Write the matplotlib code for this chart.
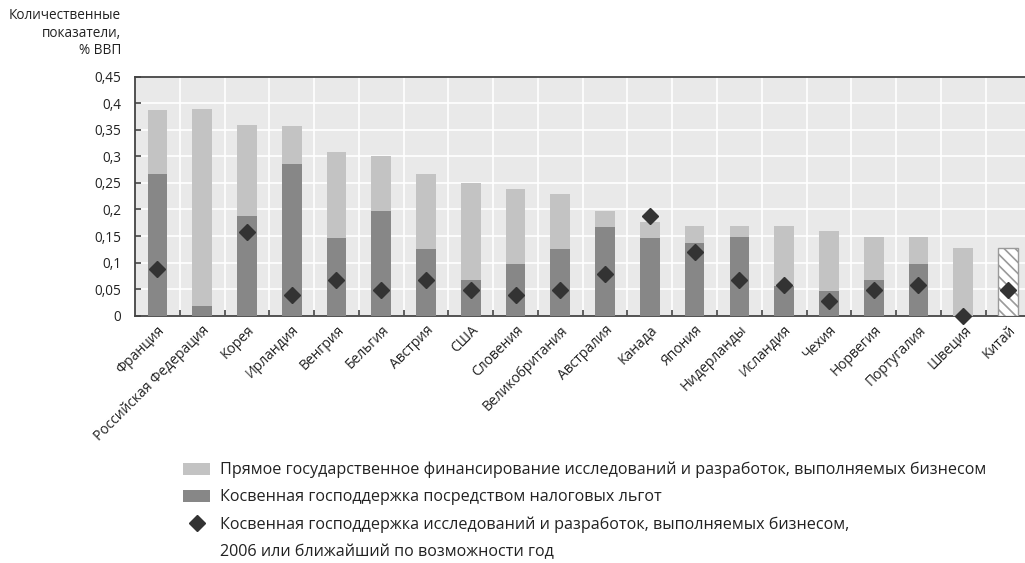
"""Stacked bar chart: government support for business R&D, % of GDP."""

import matplotlib
matplotlib.use("Agg")
import matplotlib.pyplot as plt
from matplotlib.patches import Patch
from matplotlib.lines import Line2D
from matplotlib.ticker import FuncFormatter, FixedLocator

plt.rcParams["font.family"] = ["Open Sans", "DejaVu Sans"]
plt.rcParams["hatch.color"] = "#9a9a9a"
plt.rcParams["hatch.linewidth"] = 1.2

OUTPUT_PNG = "out.png"

countries = ["Франция", "Российская Федерация", "Корея", "Ирландия", "Венгрия",
             "Бельгия", "Австрия", "США", "Словения", "Великобритания",
             "Австралия", "Канада", "Япония", "Нидерланды", "Исландия",
             "Чехия", "Норвегия", "Португалия", "Швеция", "Китай"]
# total support (direct + tax incentives)
total = [0.387, 0.389, 0.359, 0.357, 0.308, 0.300, 0.267, 0.250, 0.238, 0.229,
         0.197, 0.176, 0.169, 0.169, 0.169, 0.159, 0.148, 0.148, 0.127, 0.127]
# indirect support through tax incentives
indirect = [0.267, 0.018, 0.188, 0.285, 0.146, 0.197, 0.125, 0.067, 0.097, 0.125,
            0.167, 0.146, 0.137, 0.148, 0.056, 0.046, 0.067, 0.097, 0.0, None]
# indirect support, 2006 or nearest year
indirect_2006 = [0.088, None, 0.158, 0.039, 0.068, 0.048, 0.068, 0.048, 0.038, 0.048,
                 0.078, 0.188, 0.119, 0.068, 0.057, 0.028, 0.048, 0.058, 0.0, 0.049]

LIGHT = "#c3c3c3"
DARK = "#878787"
MARK = "#333333"


def main():
    fig = plt.figure(figsize=(10.25, 5.63), dpi=100)
    ax = fig.add_axes([0.1317, 0.4393, 1 - 0.1317, 0.4245])
    ax.set_facecolor("#e9e9e9")

    x = list(range(len(countries)))
    w = 0.44
    for i in x:
        if indirect[i] is None:
            # China: only a total, drawn hatched
            ax.bar(i, total[i], w, facecolor="white", edgecolor="#9a9a9a",
                   hatch="\\\\\\", linewidth=1.0, zorder=3)
            continue
        ax.bar(i, indirect[i], w, color=DARK, zorder=3, linewidth=0)
        ax.bar(i, total[i] - indirect[i], w, bottom=indirect[i], color=LIGHT,
               zorder=3, linewidth=0)

    xs = [i for i in x if indirect_2006[i] is not None]
    ys = [indirect_2006[i] for i in xs]
    ax.plot(xs, ys, linestyle="none", marker="D", markersize=8,
            color=MARK, zorder=5, clip_on=False)

    ax.set_ylim(0, 0.45)
    ax.set_xlim(-0.5, len(countries) - 0.5 - 0.12)
    ax.set_yticks([i * 0.05 for i in range(10)])
    ax.yaxis.set_major_formatter(
        FuncFormatter(lambda v, _: f"{round(v, 2):g}".replace(".", ",")))
    ax.set_xticks(x)
    ax.set_xticklabels(countries, rotation=45, ha="right",
                       rotation_mode="anchor", fontsize=10, color="#222")
    ax.xaxis.set_minor_locator(FixedLocator([i + 0.5 for i in x]))
    ax.tick_params(axis="x", which="major", length=0, pad=5)
    ax.tick_params(axis="x", which="minor", direction="in", length=4,
                   width=1.2, color="#444")
    ax.tick_params(axis="y", direction="in", length=4, width=1.2,
                   color="#444", labelsize=9.8, labelcolor="#222", pad=10)

    ax.grid(axis="y", which="major", color="white", linewidth=1.2, zorder=1)
    ax.grid(axis="x", which="minor", color="white", linewidth=1.2, zorder=1)
    ax.set_axisbelow(True)
    for side in ("left", "bottom", "top"):
        ax.spines[side].set_color("#444")
        ax.spines[side].set_linewidth(1.3)
    ax.spines["right"].set_visible(False)

    fig.text(121 / 1025, 1 - 8 / 563, "Количественные\nпоказатели,\n% ВВП",
             ha="right", va="top", fontsize=9.8, color="#222",
             multialignment="right", linespacing=1.25)

    handles = [Patch(facecolor=LIGHT), Patch(facecolor=DARK),
               Line2D([], [], linestyle="none", marker="D", markersize=8,
                      color=MARK),
               Line2D([], [], linestyle="none")]
    labels = ["Прямое государственное финансирование исследований и разработок, выполняемых бизнесом",
              "Косвенная господдержка посредством налоговых льгот",
              "Косвенная господдержка исследований и разработок, выполняемых бизнесом,",
              "2006 или ближайший по возможности год"]
    leg = fig.legend(handles, labels, loc="upper left",
                     bbox_to_anchor=(183 / 1025, 1 - 462 / 563),
                     frameon=False, fontsize=11.6, handlelength=1.68,
                     handleheight=0.81, handletextpad=0.62, labelspacing=0.68,
                     borderpad=0, borderaxespad=0)
    for t in leg.get_texts():
        t.set_color("#222")

    fig.savefig(OUTPUT_PNG, dpi=100)


if __name__ == "__main__":
    main()
